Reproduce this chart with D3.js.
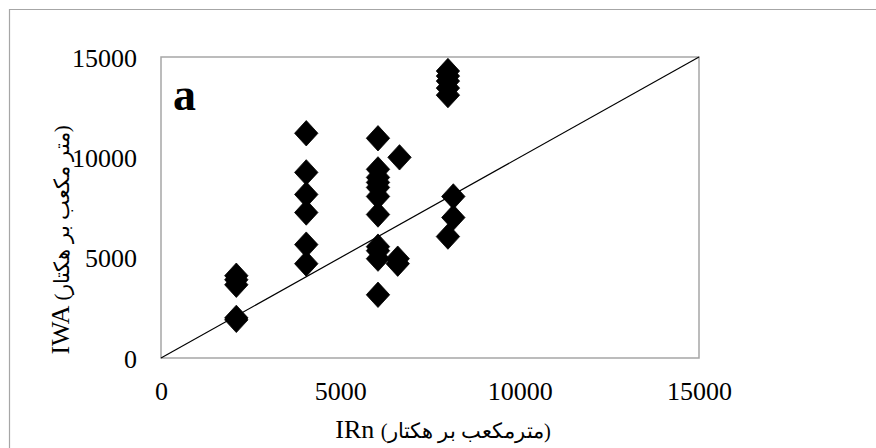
<!DOCTYPE html>
<html>
<head>
<meta charset="utf-8">
<script src="https://cdn.jsdelivr.net/npm/d3@7"></script>
<style>
  html, body { margin: 0; padding: 0; background: #fff; }
  svg { display: block; }
  text { font-family: "Liberation Serif", "Times New Roman", serif; fill: #000; }
</style>
</head>
<body>
<svg id="chart" width="876" height="448"></svg>
<script>
// Observed IRn (x) and IWA (y), m3/ha
const irn = [
  2100, 2100, 2100, 2100, 2100,
  4050, 4050, 4050, 4050, 4050, 4050,
  6050, 6050, 6050, 6050, 6050, 6050, 6050, 6050, 6050, 6050, 6050,
  6650, 6600, 6600,
  8000, 8000, 8000, 8000, 8000, 8000,
  8150, 8150
];
const iwa = [
  4100, 3900, 3650, 2000, 1900,
  11200, 9250, 8150, 7250, 5650, 4700,
  10950, 9400, 9000, 8750, 8500, 8050, 7150, 5550, 5350, 4950, 3150,
  10000, 4950, 4700,
  14300, 14050, 13800, 13450, 13100, 6050,
  8050, 7000
];
const xTicks = [0, 5000, 10000, 15000];
const yTicks = [0, 5000, 10000, 15000];
const oneToOne = [0, 15000];

const xTitle = ["IRn ", "(مترمکعب بر هکتار)"];
const yTitle = ["IWA ", "(متر مکعب بر هکتار)"];
const panelLabel = "a";

const svg = d3.select("#chart");
const plot = { left: 161, right: 699, top: 57, bottom: 358 };

const x = d3.scaleLinear().domain([0, 15000]).range([plot.left, plot.right]);
const y = d3.scaleLinear().domain([0, 15000]).range([plot.bottom, plot.top]);

// chart area border (top and left edges)
svg.append("path")
  .attr("d", "M9.5,448 L9.5,9.5 L876,9.5")
  .attr("fill", "none")
  .attr("stroke", "#a6a6a6")
  .attr("stroke-width", 1.2);

// plot area frame
svg.append("rect")
  .attr("x", plot.left).attr("y", plot.top)
  .attr("width", plot.right - plot.left).attr("height", plot.bottom - plot.top)
  .attr("fill", "none")
  .attr("stroke", "#a6a6a6")
  .attr("stroke-width", 1.5);

// axes: labels only, no tick marks or domain line
const xAxis = svg.append("g")
  .attr("transform", `translate(0,${plot.bottom + 42})`)
  .call(d3.axisBottom(x).tickValues(xTicks).tickSize(0).tickPadding(0).tickFormat(d3.format("d")));
xAxis.select(".domain").remove();
xAxis.selectAll("text")
  .attr("font-size", 26).attr("font-family", "Liberation Serif, serif")
  .attr("dy", 0).attr("y", 0);

const yAxis = svg.append("g")
  .attr("transform", `translate(${plot.left - 24},0)`)
  .call(d3.axisLeft(y).tickValues(yTicks).tickSize(0).tickPadding(0).tickFormat(d3.format("d")));
yAxis.select(".domain").remove();
yAxis.selectAll("text")
  .attr("font-size", 26).attr("font-family", "Liberation Serif, serif")
  .attr("x", 0).attr("dy", "0.35em");

// 1:1 line
svg.append("line")
  .attr("x1", x(oneToOne[0])).attr("y1", y(oneToOne[0]))
  .attr("x2", x(oneToOne[1])).attr("y2", y(oneToOne[1]))
  .attr("stroke", "#000").attr("stroke-width", 1.2);

// diamond markers
const hw = 11.7, hh = 12.7;
const diamond = `M0,${-hh} L${hw},0 L0,${hh} L${-hw},0 Z`;
svg.append("g").selectAll("path")
  .data(irn.map((v, i) => [v, iwa[i]]))
  .join("path")
  .attr("d", diamond)
  .attr("transform", d => `translate(${x(d[0])},${y(d[1])})`)
  .attr("fill", "#000")
  .attr("stroke", "#000")
  .attr("stroke-width", 0.8)
  .attr("stroke-linejoin", "round");

// panel label
svg.append("text")
  .attr("x", 173).attr("y", 110)
  .attr("font-size", 46).attr("font-weight", "bold")
  .text(panelLabel);

// axis titles: Latin symbol followed by the Persian unit
function title(sel, parts) {
  sel.append("tspan").attr("font-size", 26).text(parts[0]);
  sel.append("tspan").attr("font-size", 20.5).text(parts[1]);
}

svg.append("text")
  .attr("x", 443).attr("y", 438)
  .attr("text-anchor", "middle")
  .call(title, xTitle);

svg.append("text")
  .attr("transform", "translate(69,240) rotate(-90)")
  .attr("text-anchor", "middle")
  .call(title, yTitle);
</script>
</body>
</html>
